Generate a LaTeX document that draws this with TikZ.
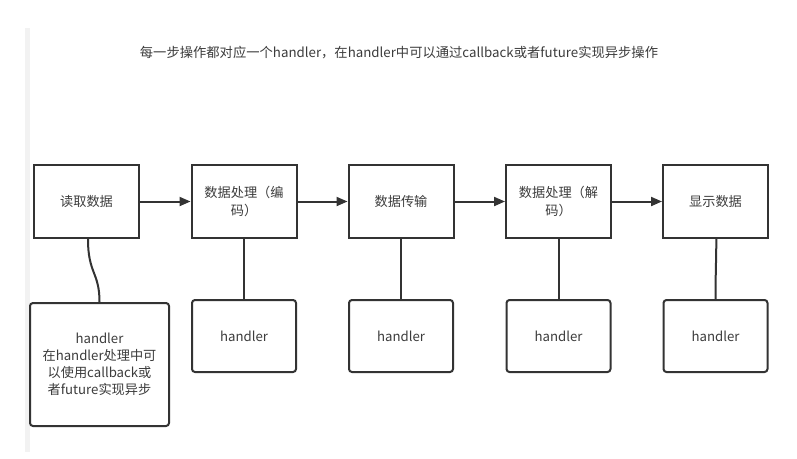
\documentclass[tikz,border=0pt]{standalone}
\usepackage{fontspec}
\setmainfont{Noto Sans CJK SC}
\usetikzlibrary{arrows.meta}
\definecolor{txt}{HTML}{3C3C3C}
\definecolor{edge}{HTML}{333333}
\definecolor{barc}{HTML}{F2F2F2}
\tikzset{
  stepbox/.style={draw=edge, line width=2pt, fill=white, minimum width=105pt, minimum height=73pt,
    inner sep=2pt, align=center, text=txt, font=\fontsize{13.2pt}{18.5pt}\selectfont, text width=98pt},
  hbox/.style={draw=edge, line width=2pt, fill=white, rounded corners=3pt, minimum width=104pt,
    minimum height=72pt, inner sep=2pt, align=center, text=txt, font=\fontsize{13.2pt}{17pt}\selectfont},
  flow/.style={draw=edge, line width=2pt, -{Triangle[length=11pt,width=9pt]}},
  link/.style={draw=edge, line width=2pt}
}
\begin{document}
\begin{tikzpicture}[x=1pt,y=-1pt]
\useasboundingbox (0,0) rectangle (797,458);
\fill[white] (0,0) rectangle (797,458);
\fill[barc] (25,28) rectangle (30,452);
\node[text=txt, font=\fontsize{13.3pt}{15pt}\selectfont] (title) at (399,53) {每一步操作都对应一个handler，在handler中可以通过callback或者future实现异步操作};

\node[stepbox] (b1) at (86.5,201.5) {读取数据};
\node[stepbox] (b2) at (244,201.5) {数据处理（编\\码）};
\node[stepbox] (b3) at (401,201.5) {数据传输};
\node[stepbox] (b4) at (558.5,201.5) {数据处理（解\\码）};
\node[stepbox] (b5) at (715.5,201.5) {显示数据};

\node[hbox, minimum width=139pt, minimum height=123pt] (h1) at (99.5,364.5) {handler\\在handler处理中可\\以使用callback或\\者future实现异步};
\node[hbox] (h2) at (244,336) {handler};
\node[hbox] (h3) at (401,336) {handler};
\node[hbox] (h4) at (558.5,336) {handler};
\node[hbox] (h5) at (715.5,336) {handler};

\draw[flow] (b1) -- (b2);
\draw[flow] (b2) -- (b3);
\draw[flow] (b3) -- (b4);
\draw[flow] (b4) -- (b5);

\draw[link] ([xshift=1.5pt]b1.south) .. controls ([xshift=1.5pt,yshift=-35pt]b1.south) and ([yshift=30pt]h1.north) .. (h1.north);
\draw[link] (b2.south) -- (h2.north);
\draw[link] (b3.south) -- (h3.north);
\draw[link] (b4.south) -- (h4.north);
\draw[link] ([xshift=0.8pt]b5.south) .. controls ([xshift=0.8pt,yshift=-20pt]b5.south) and ([yshift=25pt]h5.north) .. (h5.north);
\end{tikzpicture}
\end{document}
